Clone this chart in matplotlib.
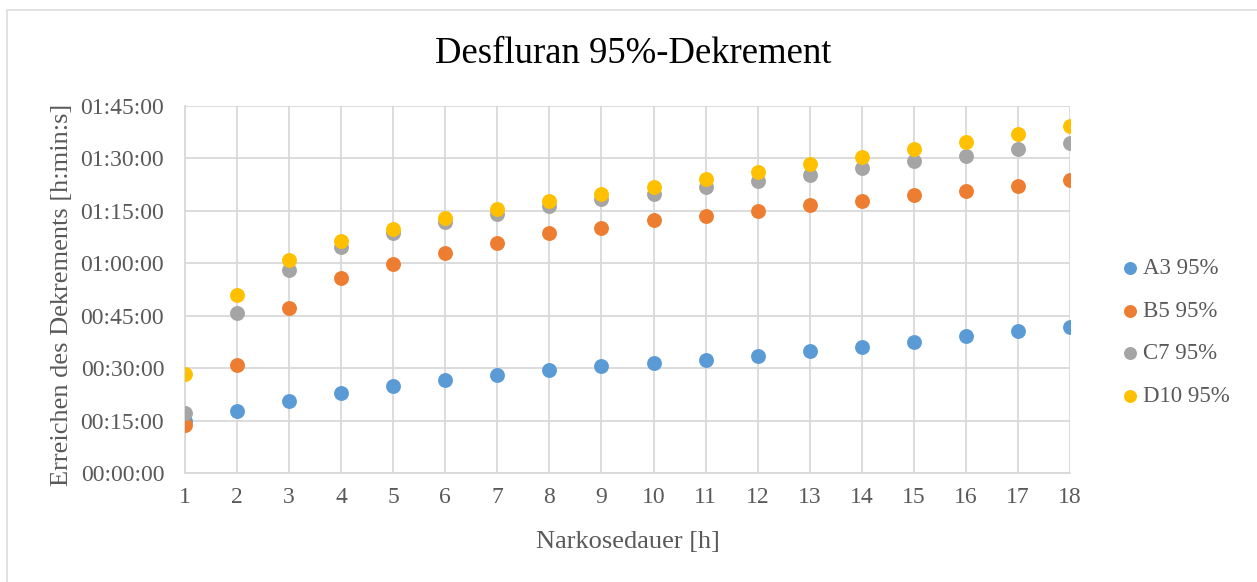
import matplotlib
matplotlib.use("Agg")
import matplotlib.pyplot as plt
from matplotlib.ticker import FuncFormatter, MultipleLocator
from matplotlib.patches import Rectangle

hours = list(range(1, 19))
# values in minutes
a3 = [14.8, 17.6, 20.6, 22.8, 24.9, 26.6, 27.9, 29.4, 30.6, 31.4, 32.2, 33.5, 34.8, 36.0, 37.5, 39.1, 40.6, 41.8]
b5 = [13.75, 30.8, 47.2, 55.8, 59.9, 62.8, 65.8, 68.8, 70.2, 72.3, 73.6, 75.1, 76.6, 77.8, 79.4, 80.8, 82.1, 83.8]
c7 = [17.1, 45.7, 58.2, 64.7, 68.7, 71.7, 74.2, 76.3, 78.3, 79.9, 81.8, 83.6, 85.4, 87.2, 89.2, 90.8, 92.6, 94.4]
d10 = [28.3, 51.0, 60.8, 66.5, 69.9, 73.0, 75.4, 77.8, 79.9, 81.9, 84.0, 86.2, 88.3, 90.4, 92.6, 94.8, 97.1, 99.2]
series_names = ["A3 95%", "B5 95%", "C7 95%", "D10 95%"]
colors = ["#5b9bd5", "#ed7d31", "#a5a5a5", "#ffc000"]

plt.rcParams['font.family'] = ['Liberation Serif', 'DejaVu Serif']
txt = "#595959"
grid = "#d9d9d9"
W, H = 1257, 582

fig = plt.figure(figsize=(W/100, H/100), dpi=100)
fig.patches.append(Rectangle((7/W, -0.05), 1.2, 1 - 10/H + 0.05, transform=fig.transFigure,
                             fill=False, edgecolor=grid, linewidth=1.1))
ax = fig.add_axes([185/W, 1-473/H, (1070-185)/W, (473-106)/H])

for vals, name, c in zip([a3, b5, c7, d10], series_names, colors):
    ax.scatter(hours, vals, s=115, color=c, label=name, zorder=3, linewidths=0)

ax.set_xlim(1, 18)
ax.set_ylim(0, 105)
ax.xaxis.set_major_locator(MultipleLocator(1))
ax.yaxis.set_major_locator(MultipleLocator(15))
ax.yaxis.set_major_formatter(FuncFormatter(lambda v, p: "%02d:%02d:00" % (int(v)//60, int(v) % 60)))
ax.grid(True, color=grid, linewidth=1.3, zorder=0)
ax.set_axisbelow(True)
for s in ["top", "right"]:
    ax.spines[s].set_visible(False)
for s in ["left", "bottom"]:
    ax.spines[s].set_color(grid)
    ax.spines[s].set_linewidth(1.3)
ax.tick_params(length=0, labelsize=17, colors=txt)
ax.tick_params(axis="y", pad=15)
ax.tick_params(axis="x", pad=10)

fig.text(628/W, 1-548/H, "Narkosedauer [h]", fontsize=19, color=txt, ha="center", va="baseline")
fig.text(62/W, 1-295/H, "Erreichen des Dekrements [h:min:s]", fontsize=19, color=txt,
         ha="center", va="center", rotation=90)
fig.text(633/W, 1-63/H, "Desfluran 95%-Dekrement", fontsize=26.5, color="black",
         ha="center", va="baseline")

leg = ax.legend(loc="center left", bbox_to_anchor=(1118.5/W, 1-332.5/H), bbox_transform=fig.transFigure,
                frameon=False, fontsize=16.5, labelcolor=txt, handletextpad=0.07, labelspacing=0.93,
                markerscale=0.87, handlelength=1.0, borderpad=0, borderaxespad=0)

fig.savefig("out.png", dpi=100)
